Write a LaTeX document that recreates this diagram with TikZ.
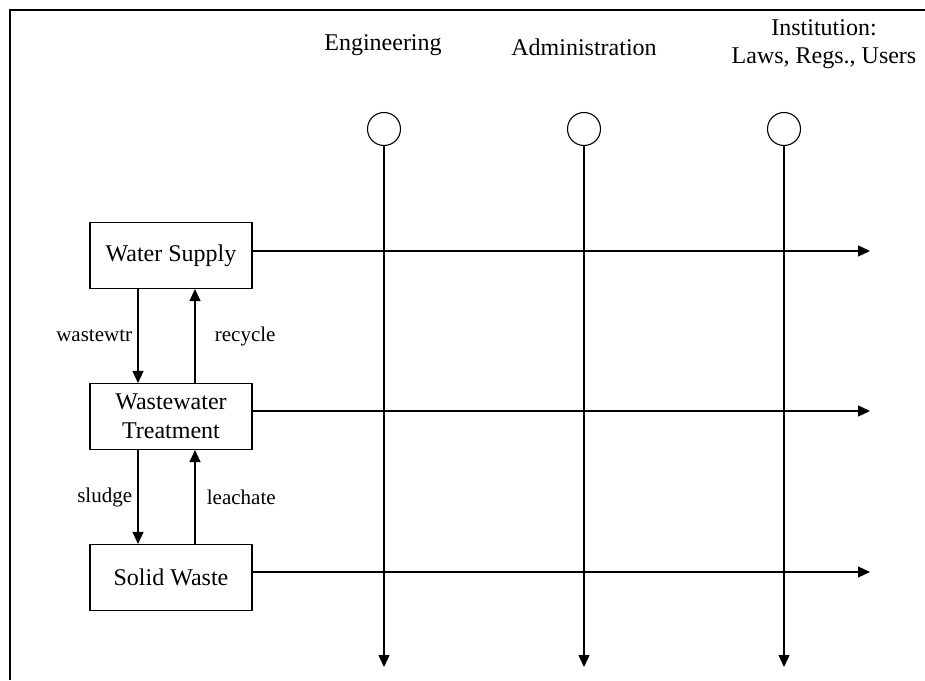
\documentclass[tikz,border=0pt]{standalone}
\usepackage{fontspec}
\setmainfont{Liberation Serif}
\usetikzlibrary{arrows.meta}
\begin{document}
\begin{tikzpicture}[x=1pt,y=1pt,
  conn/.style={line width=1.1pt,-{Triangle[length=12pt,width=11pt]}},
  boxnode/.style={draw,line width=1.1pt,minimum width=162pt,minimum height=66pt,inner sep=0pt,align=center,font=\fontsize{24}{29}\selectfont},
  hdr/.style={align=center,font=\fontsize{24}{28.5}\selectfont},
  lbl/.style={font=\fontsize{21}{25}\selectfont},
  pole/.style={draw,circle,line width=1.1pt,minimum size=33pt,inner sep=0pt}]
\useasboundingbox (0,0) rectangle (925,680);
\draw[line width=2pt] (10,0) -- (10,670) -- (925,670);
% boxes
\node[boxnode] (ws) at (171,424.5) {Water Supply};
\node[boxnode] (wt) at (171,263.5) {Wastewater\\Treatment};
\node[boxnode] (sw) at (171,102.5) {Solid Waste};
% headers and poles
\node[hdr] (heng) at (383,635) {Engineering};
\node[hdr] (hadm) at (584,633) {Administration};
\node[hdr] (hins) at (824,636) {Institution:\\Laws, Regs., Users};
\node[pole] (eng) at (384,551) {};
\node[pole] (adm) at (584,551) {};
\node[pole] (ins) at (784,551) {};
\coordinate (eend) at (384,13);
\coordinate (aend) at (584,13);
\coordinate (iend) at (784,13);
\draw[conn] (eng.south) -- (eend);
\draw[conn] (adm.south) -- (aend);
\draw[conn] (ins.south) -- (iend);
% horizontal arrows
\coordinate (wsend) at (870,429);
\coordinate (wtend) at (870,269);
\coordinate (swend) at (870,108);
\draw[conn] (ws.east |- wsend) -- (wsend);
\draw[conn] (wt.east |- wtend) -- (wtend);
\draw[conn] (sw.east |- swend) -- (swend);
% vertical flows
\draw[conn] (ws.south -| 138,0) -- node[lbl,left=2pt,pos=0.5] {wastewtr} (wt.north -| 138,0);
\draw[conn] (wt.north -| 195,0) -- node[lbl,right=16pt,pos=0.5] {recycle} (ws.south -| 195,0);
\draw[conn] (wt.south -| 138,0) -- node[lbl,left=2pt,pos=0.5] {sludge} (sw.north -| 138,0);
\draw[conn] (sw.north -| 195,0) -- node[lbl,right=8pt,pos=0.5] {leachate} (wt.south -| 195,0);
\end{tikzpicture}
\end{document}
